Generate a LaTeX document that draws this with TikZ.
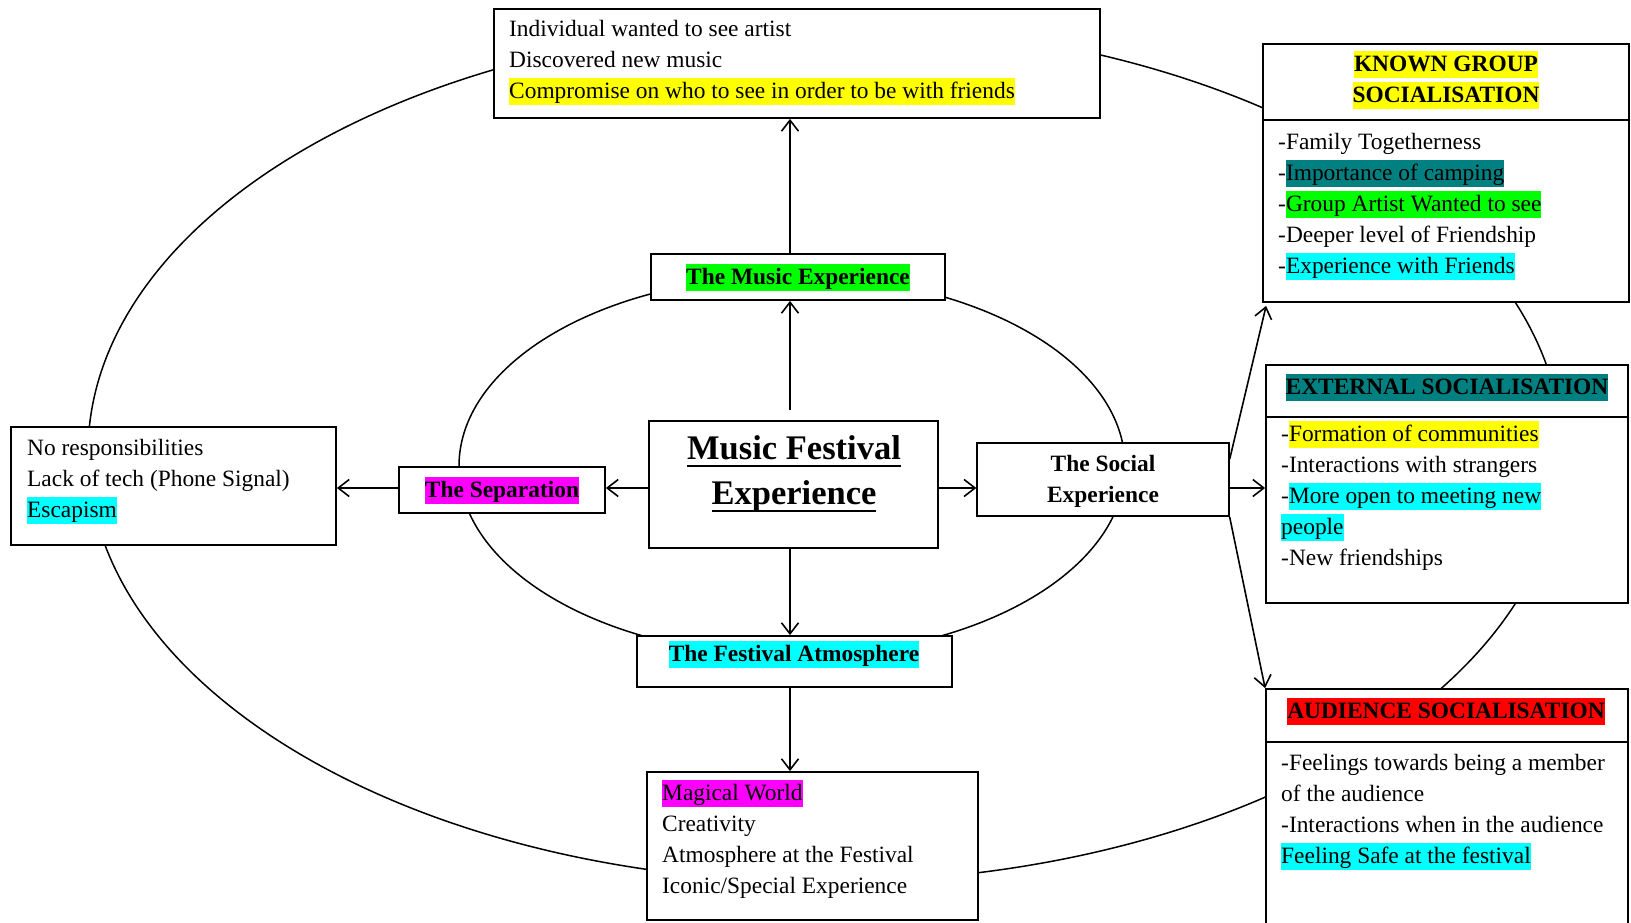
\documentclass[tikz,border=0pt]{standalone}
\usepackage{fontspec}
\setmainfont{Liberation Serif}
\usetikzlibrary{arrows.meta,calc}
\definecolor{hlyellow}{RGB}{255,255,0}
\definecolor{hlteal}{RGB}{0,128,128}
\definecolor{hlgreen}{RGB}{0,255,0}
\definecolor{hlcyan}{RGB}{0,255,255}
\definecolor{hlmag}{RGB}{255,0,255}
\definecolor{hlred}{RGB}{255,0,0}
\newcommand{\hst}{\rule[-6.5pt]{0pt}{27pt}}
\newcommand{\hlt}[2]{{\setlength{\fboxsep}{0pt}\colorbox{#1}{\hst#2}}}
\newcommand{\bigst}{\rule[-9pt]{0pt}{37pt}}
\newcommand{\myul}[1]{\setbox0=\hbox{#1}\rlap{\rule[-7.5pt]{\wd0}{1.6pt}}\box0}
\tikzset{
  box/.style={draw, rectangle, line width=1.8pt, fill=white, inner sep=0pt},
  txt/.style={inner sep=0pt, align=left, font=\fontsize{23.4}{31}\selectfont},
  btxt/.style={inner sep=0pt, align=center, font=\fontsize{23.4}{31}\selectfont\bfseries},
  arr/.style={line width=1.6pt, -{Straight Barb[length=11pt,width=17pt]}},
  ring/.style={line width=1.5pt},
  divider/.style={line width=1.8pt}
}
\begin{document}
\begin{tikzpicture}[x=1pt,y=-1pt]
\useasboundingbox (0,0) rectangle (1631,923);
\fill[white] (0,0) rectangle (1631,923);
\clip (0,0) rectangle (1631,923);

% rings
\draw[ring] (825,453) ellipse [x radius=737pt, y radius=429pt];
\draw[ring] (792,466) ellipse [x radius=333pt, y radius=190pt];

% boxes
\node[box, minimum width=606pt, minimum height=109pt] (top) at (797,63.5) {};
\node[box, btxt, minimum width=294pt, minimum height=46pt] (music) at (798,277) {\hlt{hlgreen}{The Music Experience}};
\node[box, minimum width=289pt, minimum height=127pt] (centre) at (793.5,484.5) {};
\node[box, btxt, minimum width=206pt, minimum height=46pt] (sep) at (502,490) {\hlt{hlmag}{The Separation}};
\node[box, minimum width=325pt, minimum height=118pt] (left) at (173.5,486) {};
\node[box, btxt, minimum width=251.5pt, minimum height=73pt] (social) at (1103,479.5) {\hst The Social\\\hst Experience};
\node[box, minimum width=315pt, minimum height=51pt] (fa) at (794.5,661.5) {};
\node[box, minimum width=331pt, minimum height=148pt] (magic) at (812.5,846) {};
\node[box, minimum width=366pt, minimum height=258pt] (known) at (1446,173) {};
\node[box, minimum width=362pt, minimum height=238pt] (ext) at (1447,484) {};
\node[box, minimum width=362pt, minimum height=235pt] (aud) at (1447,806.5) {};

% dividers
\coordinate (kd) at (0,120);
\coordinate (ed) at (0,417);
\coordinate (ad) at (0,742);
\draw[divider] (known.west |- kd) -- (known.east |- kd);
\draw[divider] (ext.west |- ed) -- (ext.east |- ed);
\draw[divider] (aud.west |- ad) -- (aud.east |- ad);

% texts
\node[txt, anchor=north west] (topT) at (509,16) {\hst Individual wanted to see artist\\\hst Discovered new music\\\hlt{hlyellow}{Compromise on who to see in order to be with friends}};
\node[inner sep=0pt, align=center, font=\fontsize{34.5}{45}\selectfont\bfseries] (centreT) at (794,472) {\bigst\myul{Music Festival}\\\bigst\myul{Experience}};
\node[txt, anchor=north west] (leftT) at (27,434.5) {\hst No responsibilities\\\hst Lack of tech (Phone Signal)\\\hlt{hlcyan}{Escapism}};
\node[btxt] (faT) at (794,654) {\hlt{hlcyan}{The Festival Atmosphere}};
\node[txt, anchor=north west] (magicT) at (662,779.5) {\hlt{hlmag}{Magical World}\\\hst Creativity\\\hst Atmosphere at the Festival\\\hst Iconic/Special Experience};
\node[btxt] (knownH) at (1446,80) {\hlt{hlyellow}{KNOWN GROUP}\\\hlt{hlyellow}{SOCIALISATION}};
\node[txt, anchor=north west] (knownT) at (1278,128.5) {\hst-Family Togetherness\\\hst-\hlt{hlteal}{Importance of camping}\\\hst-\hlt{hlgreen}{Group Artist Wanted to see}\\\hst-Deeper level of Friendship\\\hst-\hlt{hlcyan}{Experience with Friends}};
\node[btxt] (extH) at (1447,387) {\hlt{hlteal}{EXTERNAL SOCIALISATION}};
\node[txt, anchor=north west] (extT) at (1281,420.5) {\hst-\hlt{hlyellow}{Formation of communities}\\\hst-Interactions with strangers\\\hst-\hlt{hlcyan}{More open to meeting new}\\\hlt{hlcyan}{people}\\\hst-New friendships};
\node[btxt] (audH) at (1446,711) {\hlt{hlred}{AUDIENCE SOCIALISATION}};
\node[txt, anchor=north west] (audT) at (1281,749.5) {\hst-Feelings towards being a member\\\hst of the audience\\\hst-Interactions when in the audience\\\hlt{hlcyan}{Feeling Safe at the festival}};

% connectors
\coordinate (vx) at (790,0);
\coordinate (hy) at (0,488);
\draw[arr] ($(centre.north -| vx)+(0,-10)$) -- (music.south -| vx);
\draw[arr] (music.north -| vx) -- (top.south -| vx);
\draw[arr] (centre.south -| vx) -- (fa.north -| vx);
\draw[arr] (fa.south -| vx) -- (magic.north -| vx);
\draw[arr] (centre.west |- hy) -- (sep.east |- hy);
\draw[arr] (sep.west |- hy) -- (left.east |- hy);
\draw[arr] (centre.east |- hy) -- (social.west |- hy);
\draw[arr] (social.east |- hy) -- (ext.west |- hy);
\draw[arr] ($(social.south east)!0.77!(social.north east)$) -- ($(known.south west)+(4,3)$);
\draw[arr] (social.south east) -- (aud.north west);
\end{tikzpicture}
\end{document}
